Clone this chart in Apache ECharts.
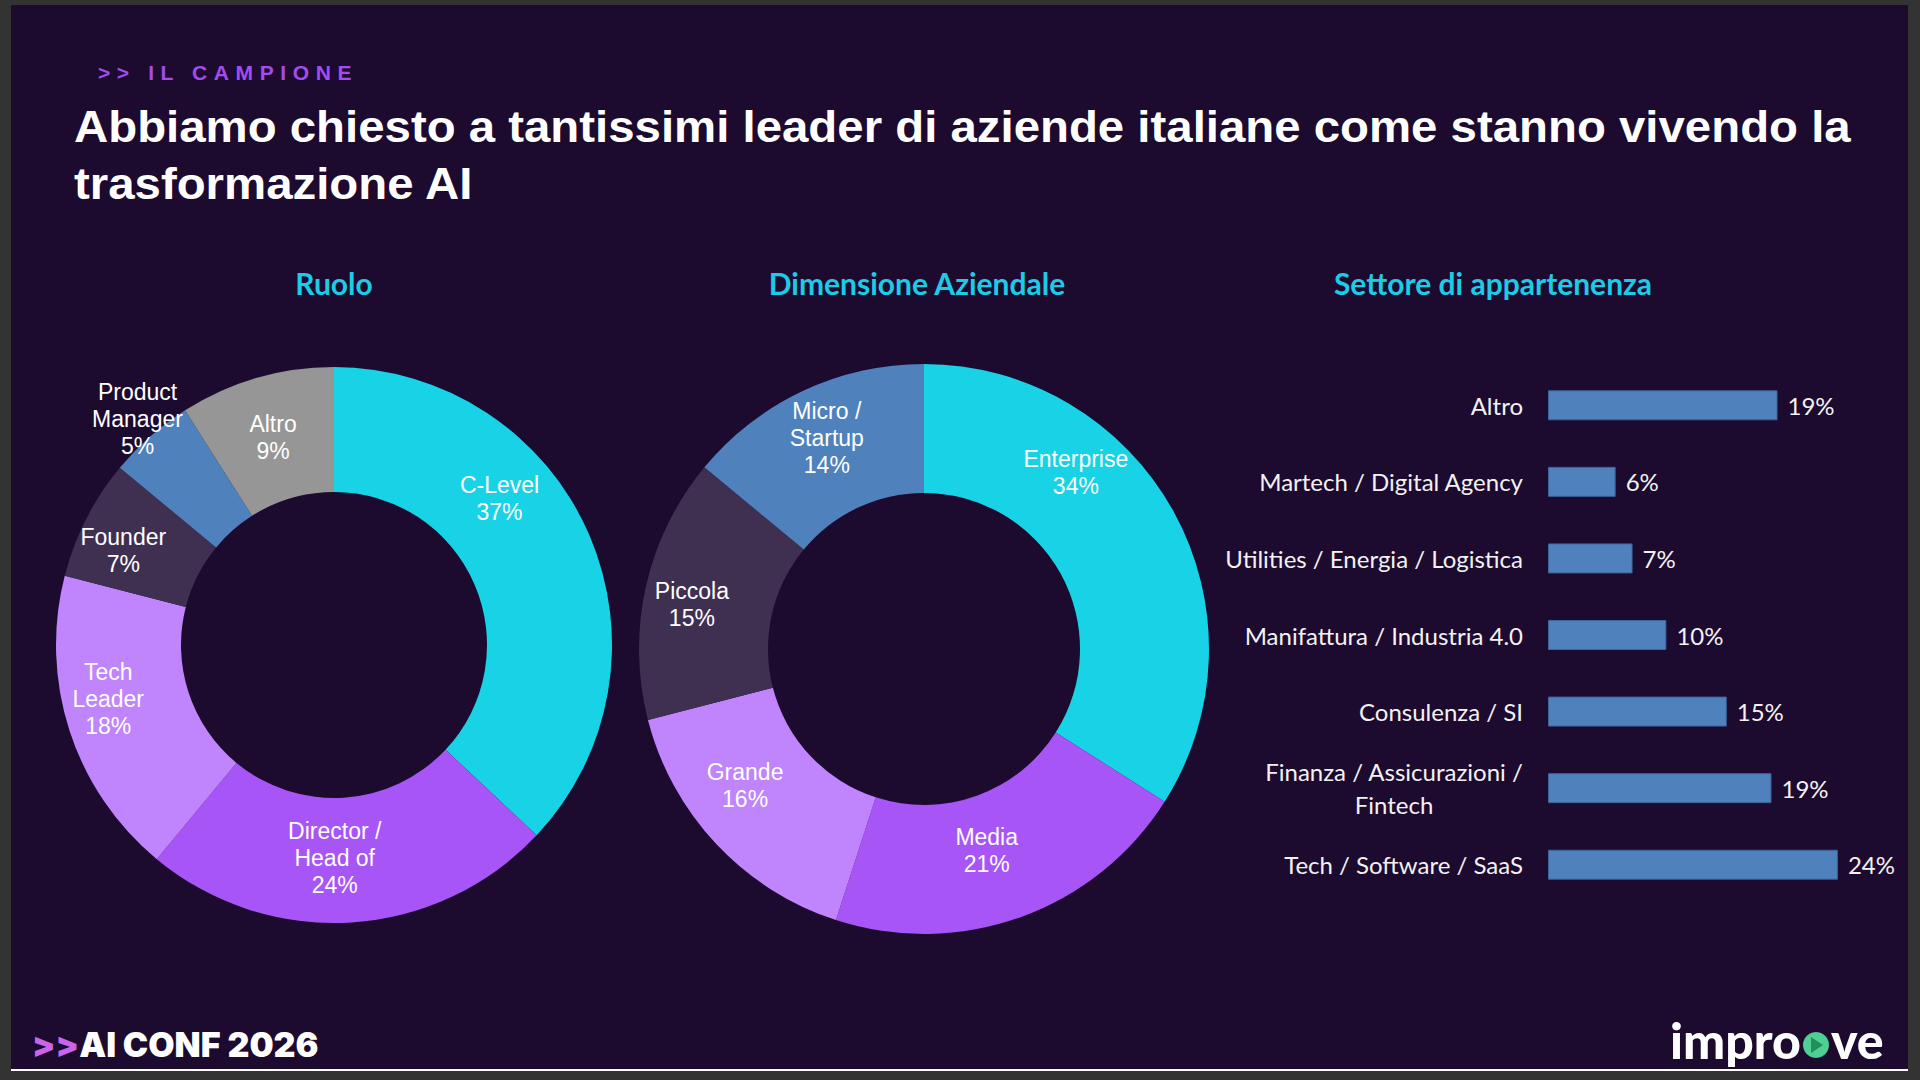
<!DOCTYPE html>
<html><head><meta charset="utf-8">
<script src="https://cdn.jsdelivr.net/npm/echarts@6/dist/echarts.min.js"></script>
<style>
html,body{margin:0;padding:0;background:#333333;width:1920px;height:1080px;overflow:hidden}
#c{position:absolute;left:0;top:0;width:1920px;height:1080px}
#kicker{position:absolute;left:98px;top:60px;font:bold 21px 'Liberation Sans',Arial,sans-serif;letter-spacing:6.6px;color:#A34CF0;line-height:26px;white-space:nowrap}
</style></head><body>
<div id="c"></div>
<div id="kicker">&gt;&gt; IL CAMPIONE</div>
<script>
// ---- data ----
const roleNames = ['C-Level', 'Director /\nHead of', 'Tech\nLeader', 'Founder', 'Product\nManager', 'Altro'];
const roleValues = [37, 24, 18, 7, 5, 9];
const sizeNames = ['Enterprise', 'Media', 'Grande', 'Piccola', 'Micro /\nStartup'];
const sizeValues = [34, 21, 16, 15, 14];
const sectorNames = ['Altro', 'Martech / Digital Agency', 'Utilities / Energia / Logistica', 'Manifattura / Industria 4.0', 'Consulenza / SI', 'Finanza / Assicurazioni /\nFintech', 'Tech / Software / SaaS'];
const sectorValues = [19.0, 5.6, 7.0, 9.8, 14.8, 18.5, 24.0];
const chartTitles = ['Ruolo', 'Dimensione Aziendale', 'Settore di appartenenza'];

// ---- styling ----
const roleColors = ['#18D3E6', '#A855F7', '#C084FC', '#3F3052', '#4F81BD', '#969696'];
const sizeColors = ['#18D3E6', '#A855F7', '#C084FC', '#3F3052', '#4F81BD'];
const roleNudge = [[-35, -60], [-13, -5], [-18, -14], [-16, 5], [-52, -62], [0, 2]];
const sizeNudge = [[-44, -69], [-13, -9], [-16, -16], [-14, 4], [-2, -9]];
const SANS = "'Liberation Sans', Arial, sans-serif";
const CAL = "Lato, 'Open Sans', sans-serif";

const chart = echarts.init(document.getElementById('c'), null, {renderer: 'svg', width: 1920, height: 1080});

function pieData(names, values, colors) {
  return names.map((n, i) => ({name: n, value: values[i], itemStyle: {color: colors[i]}}));
}
const pieLabel = {
  show: true, position: 'inside', color: '#FFFFFF', fontFamily: SANS, fontSize: 23, lineHeight: 27,
  formatter: p => p.name + '\n' + p.value + '%'
};

const sectorAxisData = sectorNames.map(n => n.indexOf('\n') >= 0
  ? {value: n, textStyle: {align: 'center', padding: [0, 258, 0, 0]}}
  : n);

const option = {
  animation: false,
  backgroundColor: '#333333',
  graphic: [
    {type: 'rect', silent: true, z: -10, shape: {x: 11, y: 5, width: 1897, height: 1065}, style: {fill: '#1D0A2F'}},
    {type: 'rect', silent: true, z: -9, shape: {x: 11, y: 1069, width: 1897, height: 2}, style: {fill: '#FFFFFF'}},
    {type: 'text', silent: true, x: 74, y: 98, scaleX: 1.053, style: {
      text: 'Abbiamo chiesto a tantissimi leader di aziende italiane come stanno vivendo la\ntrasformazione AI',
      fill: '#FFFFFF', font: "bold 45px " + SANS, lineHeight: 57, align: 'left', verticalAlign: 'top'}},
    {type: 'text', silent: true, x: 334, y: 283, style: {text: chartTitles[0], fill: '#1CCBE6', font: "bold 30px " + CAL, align: 'center', verticalAlign: 'middle'}},
    {type: 'text', silent: true, x: 917, y: 283, style: {text: chartTitles[1], fill: '#1CCBE6', font: "bold 30px " + CAL, align: 'center', verticalAlign: 'middle'}},
    {type: 'text', silent: true, x: 1493, y: 283, style: {text: chartTitles[2], fill: '#1CCBE6', font: "bold 30px " + CAL, align: 'center', verticalAlign: 'middle'}},
    {type: 'text', silent: true, x: 32, y: 1044, style: {
      text: '{a|>>}{b|AI CONF 2026}', align: 'left', verticalAlign: 'middle',
      rich: {a: {fill: '#C865E8', font: "900 34px Inter, sans-serif"}, b: {fill: '#FFFFFF', font: "900 34px Inter, sans-serif"}}}},
    {type: 'text', silent: true, x: 1670, y: 1040, style: {text: 'impro', fill: '#FFFFFF', font: "900 50px Lato, sans-serif", align: 'left', verticalAlign: 'middle'}},
    {type: 'circle', silent: true, shape: {cx: 1816, cy: 1045, r: 13}, style: {fill: '#4FCF93'}},
    {type: 'polygon', silent: true, shape: {points: [[1811, 1037], [1811, 1053], [1823, 1045]]}, style: {fill: '#1F8F5C'}},
    {type: 'text', silent: true, x: 1831, y: 1040, style: {text: 've', fill: '#FFFFFF', font: "900 50px Lato, sans-serif", align: 'left', verticalAlign: 'middle'}}
  ],
  grid: {left: 1548, top: 367, width: 362.4, height: 536, containLabel: false},
  xAxis: {type: 'value', min: 0, max: 30, show: false},
  yAxis: {
    type: 'category', inverse: true, data: sectorAxisData,
    axisLine: {show: false}, axisTick: {show: false}, splitLine: {show: false},
    axisLabel: {color: '#F2F2F2', fontFamily: CAL, fontSize: 24, lineHeight: 33, margin: 25, align: 'right'}
  },
  series: [
    {
      type: 'pie', center: [334, 645], radius: [153, 278], startAngle: 90, clockwise: true,
      data: pieData(roleNames, roleValues, roleColors), label: pieLabel, labelLine: {show: false},
      emphasis: {disabled: true}, silent: true,
      labelLayout: p => ({dx: roleNudge[p.dataIndex][0], dy: roleNudge[p.dataIndex][1]})
    },
    {
      type: 'pie', center: [924, 649], radius: [156, 285], startAngle: 90, clockwise: true,
      data: pieData(sizeNames, sizeValues, sizeColors), label: pieLabel, labelLine: {show: false},
      emphasis: {disabled: true}, silent: true,
      labelLayout: p => ({dx: sizeNudge[p.dataIndex][0], dy: sizeNudge[p.dataIndex][1]})
    },
    {
      type: 'bar', data: sectorValues, barWidth: 30, silent: true,
      itemStyle: {color: '#4F81BD', borderColor: '#3A649A', borderWidth: 1},
      label: {show: true, position: 'right', distance: 10, color: '#F2F2F2', fontFamily: CAL, fontSize: 24,
        formatter: p => Math.round(p.value) + '%'}
    }
  ]
};
chart.setOption(option);
</script>
</body></html>
